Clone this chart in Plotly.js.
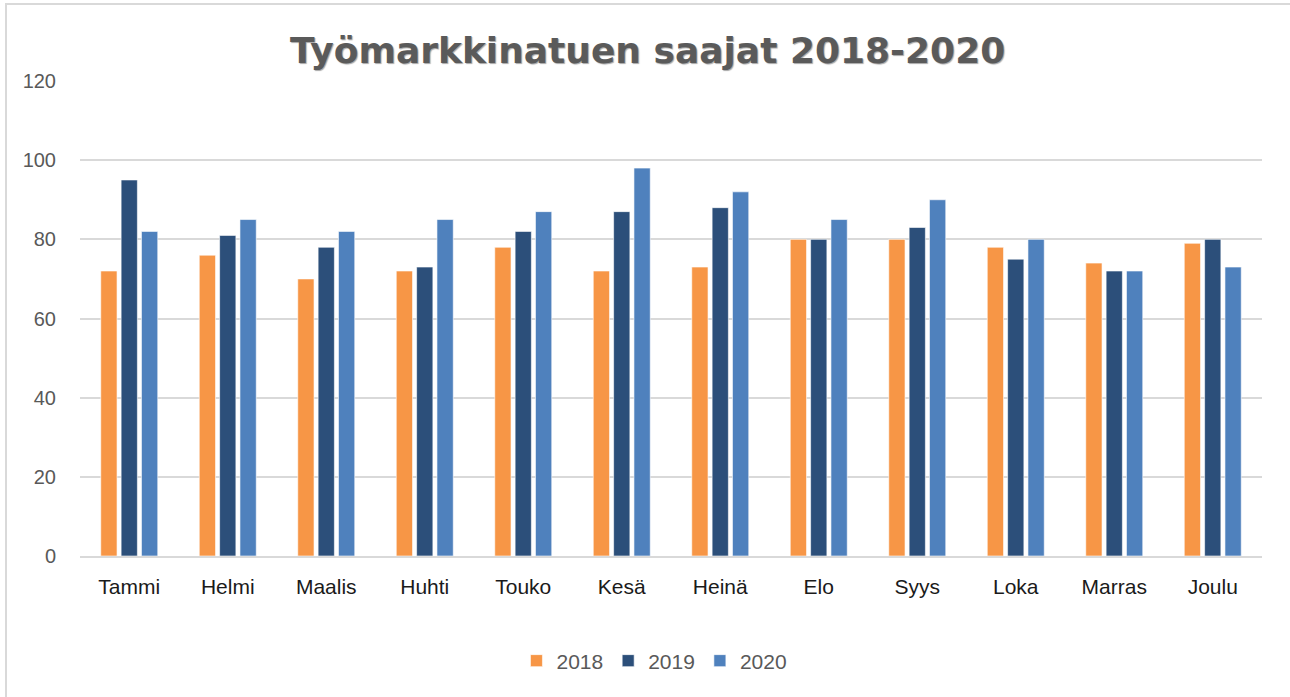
<!DOCTYPE html>
<html>
<head>
<meta charset="utf-8">
<script src="https://cdn.plot.ly/plotly-3.0.1.min.js"></script>
<style>
  html, body { margin: 0; padding: 0; background: #fff; }
  #chart { position: absolute; left: 0; top: 0; width: 1290px; height: 697px; }
  #frame { position: absolute; left: 5px; top: 3px; width: 1290px; height: 700px;
           border-left: 2px solid #d9d9d9; border-top: 2px solid #d9d9d9; pointer-events: none; }
</style>
</head>
<body>
<div id="chart"></div>
<div id="frame"></div>
<script>
const months = ["Tammi","Helmi","Maalis","Huhti","Touko","Kesä","Heinä","Elo","Syys","Loka","Marras","Joulu"];
const years = ["2018","2019","2020"];
const v2018 = [72,76,70,72,78,72,73,80,80,78,74,79];
const v2019 = [95,81,78,73,82,87,88,80,83,75,72,80];
const v2020 = [82,85,82,85,87,98,92,85,90,80,72,73];
const colors = ["#F79646","#2C4F7A","#4F81BD"];
const series = [v2018, v2019, v2020];

const traces = series.map((vals, i) => ({
  type: "bar",
  name: years[i],
  x: months,
  y: vals,
  marker: { color: colors[i], line: { color: "rgba(255,255,255,0.6)", width: 1 } },
  hoverinfo: "x+y+name"
}));

const layout = {
  width: 1290, height: 697,
  margin: { l: 80, r: 28, t: 81, b: 141 },
  paper_bgcolor: "#ffffff",
  plot_bgcolor: "#ffffff",
  barmode: "group",
  bargap: 0.38,
  bargroupgap: 0.2,
  title: {
    text: "<b>Työmarkkinatuen saajat 2018-2020</b>",
    font: { family: "DejaVu Sans, Liberation Sans, sans-serif", size: 36, color: "#5a5a5a",
            shadow: "1px 1px 1px rgba(0,0,0,0.35)" },
    x: 0.502, xanchor: "center", xref: "container",
    y: 0.928, yanchor: "middle", yref: "container"
  },
  xaxis: {
    tickfont: { family: "Liberation Sans, Arial, sans-serif", size: 21, color: "#1a1a1a" },
    showgrid: false,
    showline: true, linecolor: "#d9d9d9", linewidth: 2,
    ticks: "", ticklabelstandoff: 11
  },
  yaxis: {
    range: [0, 120],
    dtick: 20,
    tickfont: { family: "Liberation Sans, Arial, sans-serif", size: 20, color: "#595959" },
    showgrid: true, gridcolor: "#d9d9d9", gridwidth: 2,
    zeroline: false, showline: false,
    ticks: "", ticklabelstandoff: 23
  },
  legend: {
    orientation: "h",
    x: 0.486, xanchor: "center",
    y: -0.221, yanchor: "middle",
    font: { family: "Liberation Sans, Arial, sans-serif", size: 21, color: "#595959" },
    itemwidth: 30
  },
  showlegend: true
};

Plotly.newPlot("chart", traces, layout, { displayModeBar: false, responsive: false });
</script>
</body>
</html>
